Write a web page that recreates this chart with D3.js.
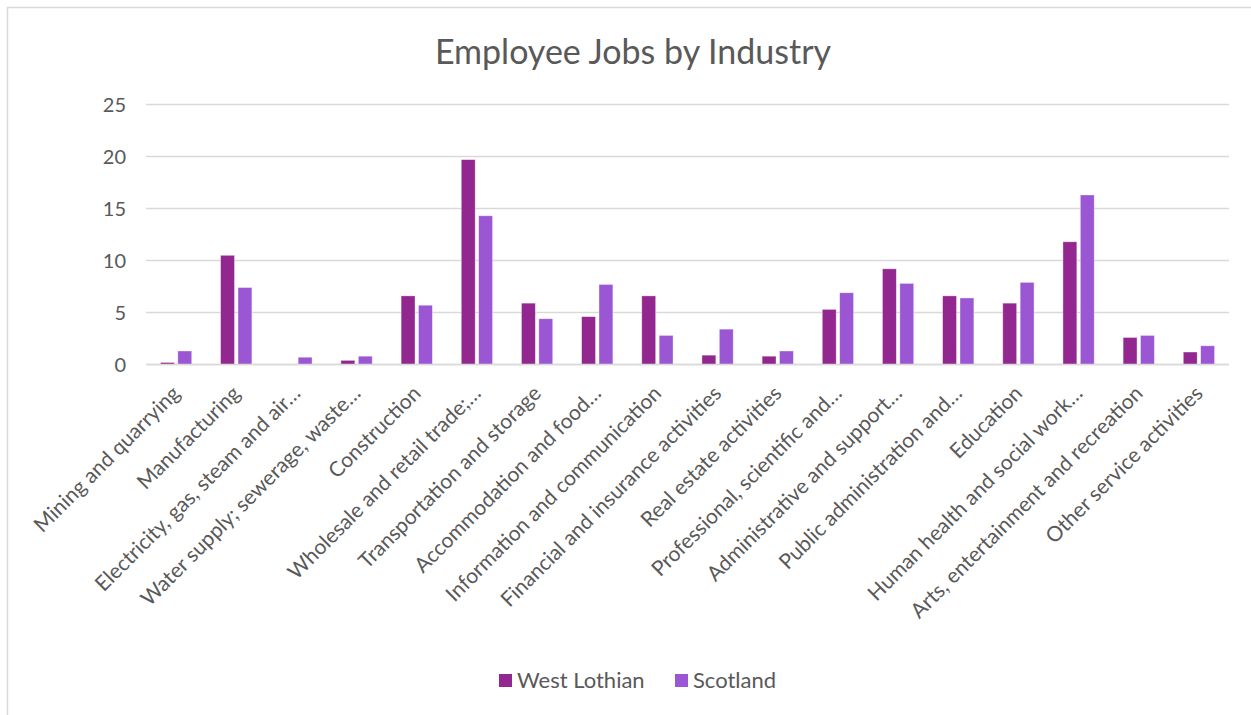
<!DOCTYPE html>
<html>
<head>
<meta charset="utf-8">
<script src="https://cdn.jsdelivr.net/npm/d3@7"></script>
<style>
  body { margin: 0; background: #fff; }
  svg { display: block; font-family: Lato, "Open Sans", sans-serif; }
</style>
</head>
<body>
<svg id="chart" width="1251" height="715"></svg>
<script>
const categories = [
    'Mining and quarrying',
    'Manufacturing',
    'Electricity, gas, steam and air\u2026',
    'Water supply; sewerage, waste\u2026',
    'Construction',
    'Wholesale and retail trade;\u2026',
    'Transportation and storage',
    'Accommodation and food\u2026',
    'Information and communication',
    'Financial and insurance activities',
    'Real estate activities',
    'Professional, scientific and\u2026',
    'Administrative and support\u2026',
    'Public administration and\u2026',
    'Education',
    'Human health and social work\u2026',
    'Arts, entertainment and recreation',
    'Other service activities'
];
const seriesNames = ['West Lothian', 'Scotland'];
const westLothian = [0.2, 10.5, 0, 0.4, 6.6, 19.7, 5.9, 4.6, 6.6, 0.9, 0.8, 5.3, 9.2, 6.6, 5.9, 11.8, 2.6, 1.2];
const scotland = [1.3, 7.4, 0.7, 0.8, 5.7, 14.3, 4.4, 7.7, 2.8, 3.4, 1.3, 6.9, 7.8, 6.4, 7.9, 16.3, 2.8, 1.8];
const yTicks = [0, 5, 10, 15, 20, 25];
const colors = ['#92278F', '#9B57D3'];

const TEXT = '#595959';
const GRID = '#d9d9d9';

const svg = d3.select('#chart');

// outer chart border (only left/top visible in the frame)
svg.append('rect')
    .attr('x', 7.5).attr('y', 7.5)
    .attr('width', 1260).attr('height', 720)
    .attr('fill', 'none').attr('stroke', GRID).attr('stroke-width', 1.5);

svg.append('text')
    .attr('x', 633).attr('y', 64)
    .attr('text-anchor', 'middle')
    .attr('fill', TEXT)
    .style('font-size', '34px')
    .text('Employee Jobs by Industry');

const margin = { left: 146, right: 1229, top: 104.5, bottom: 364.5 };

const x = d3.scaleBand()
    .domain(categories)
    .range([margin.left, margin.right]);

const x1 = d3.scaleBand()
    .domain(seriesNames)
    .range([0, x.bandwidth() * 0.52])
    .paddingInner(0.2);

const y = d3.scaleLinear()
    .domain([0, 25])
    .range([margin.bottom, margin.top]);

// gridlines
svg.append('g')
    .selectAll('line')
    .data(yTicks)
    .join('line')
    .attr('x1', margin.left).attr('x2', margin.right)
    .attr('y1', d => y(d)).attr('y2', d => y(d))
    .attr('stroke', GRID).attr('stroke-width', 1.5);

// y labels
svg.append('g')
    .selectAll('text')
    .data(yTicks)
    .join('text')
    .attr('x', 126)
    .attr('y', d => y(d))
    .attr('dy', '0.35em')
    .attr('text-anchor', 'end')
    .attr('fill', TEXT)
    .style('font-size', '20px')
    .text(d => d);

// bars
const rows = categories.map((c, i) => ({ cat: c, vals: [westLothian[i], scotland[i]] }));
const groupOffset = (x.bandwidth() - x.bandwidth() * 0.52) / 2;

svg.append('g')
    .selectAll('g')
    .data(rows)
    .join('g')
    .attr('transform', d => `translate(${x(d.cat) + groupOffset},0)`)
    .selectAll('rect')
    .data(d => d.vals.map((v, k) => ({ name: seriesNames[k], v: v, k: k })))
    .join('rect')
    .attr('x', d => x1(d.name))
    .attr('width', x1.bandwidth())
    .attr('y', d => y(d.v))
    .attr('height', d => y(0) - y(d.v))
    .attr('fill', d => colors[d.k])
    .attr('stroke', '#fff').attr('stroke-opacity', 0.5).attr('stroke-width', 0.75);

// baseline on top
svg.append('line')
    .attr('x1', margin.left).attr('x2', margin.right)
    .attr('y1', y(0)).attr('y2', y(0))
    .attr('stroke', GRID).attr('stroke-width', 1.5);

// rotated category labels
svg.append('g')
    .selectAll('text')
    .data(categories)
    .join('text')
    .attr('transform', d => `translate(${x(d) + x.bandwidth() / 2},${y(0) + 25}) rotate(-45)`)
    .attr('text-anchor', 'end')
    .attr('dy', '0.35em')
    .attr('fill', TEXT)
    .style('font-size', '21px')
    .text(d => d);

// legend
const legend = svg.append('g');
const legendX = [499, 675];
seriesNames.forEach((name, k) => {
    legend.append('rect')
        .attr('x', legendX[k]).attr('y', 674)
        .attr('width', 13).attr('height', 13)
        .attr('fill', colors[k]);
    legend.append('text')
        .attr('x', legendX[k] + 18).attr('y', 680)
        .attr('dy', '0.35em')
        .attr('fill', TEXT)
        .style('font-size', '22px')
        .text(name);
});
</script>
</body>
</html>
